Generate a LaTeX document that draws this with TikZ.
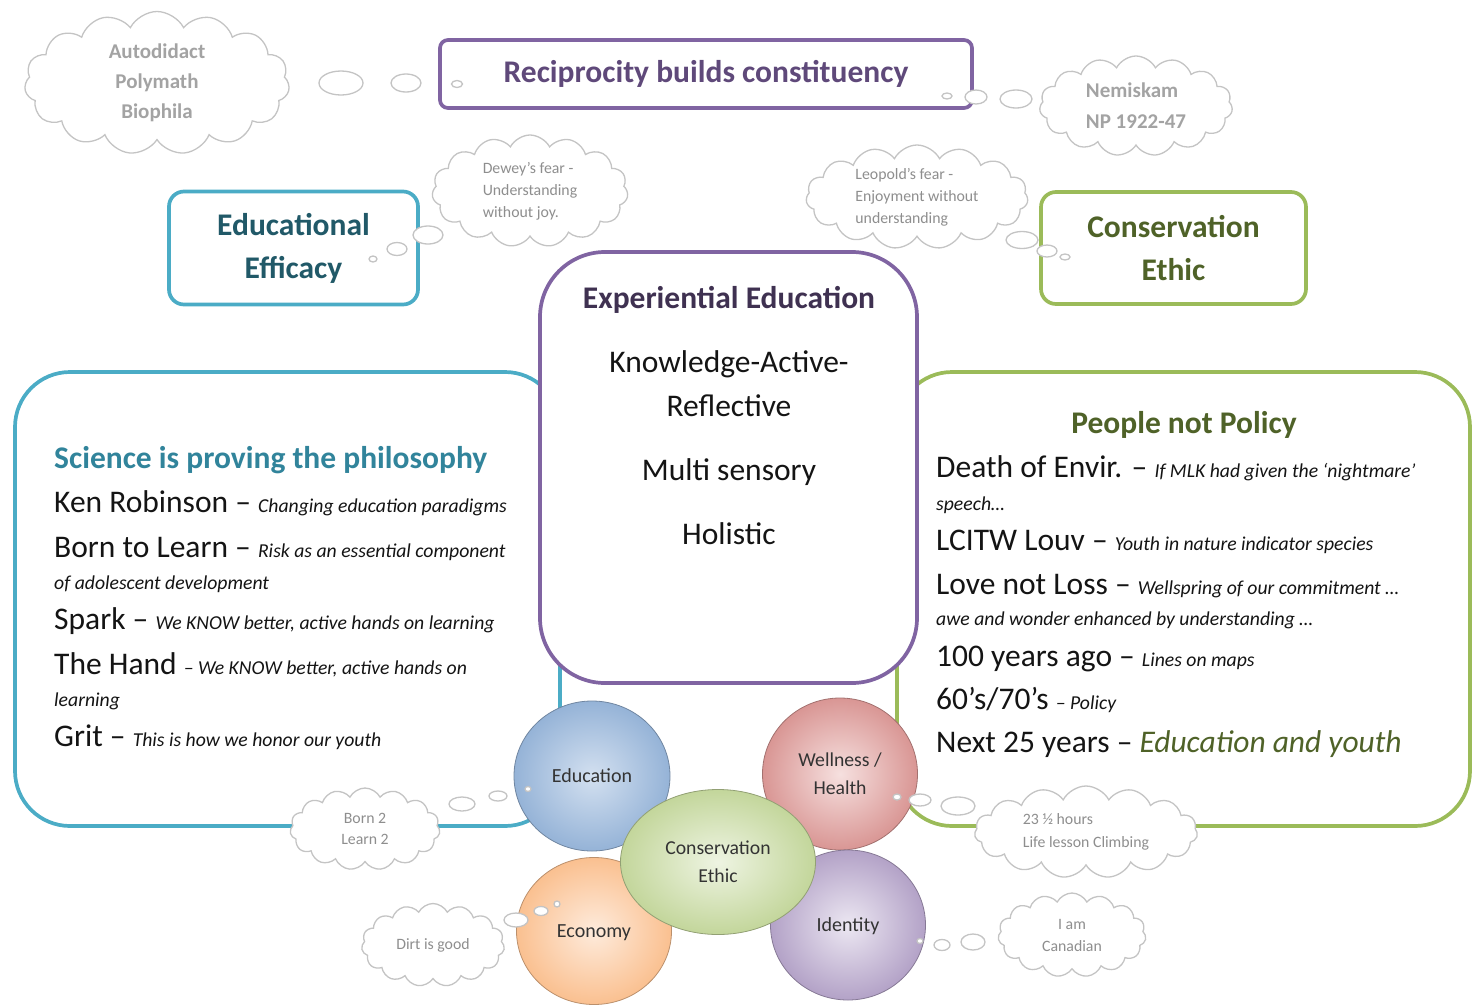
\documentclass[tikz,border=0pt]{standalone}
\usepackage{fontspec}
\setmainfont{Carlito}
\usepackage{xcolor}
\usepackage{tikz}
\usetikzlibrary{shapes.symbols,shapes.geometric}
\definecolor{tealbd}{HTML}{4BACC6}
\definecolor{tealtx}{HTML}{31849B}
\definecolor{tealdk}{HTML}{215968}
\definecolor{purpbd}{HTML}{8064A2}
\definecolor{purptx}{HTML}{5F497A}
\definecolor{purpdk}{HTML}{3F3151}
\definecolor{grnbd}{HTML}{9BBB59}
\definecolor{grntx}{HTML}{4F6228}
\definecolor{cldbd}{HTML}{C4C4C4}
\definecolor{cldtx}{HTML}{A3A3A3}
\definecolor{cldsm}{HTML}{8E8E8E}
\definecolor{eduin}{HTML}{D3E0F0}\definecolor{eduout}{HTML}{95B3D7}
\definecolor{welin}{HTML}{F6E0DF}\definecolor{welout}{HTML}{D99694}
\definecolor{conin}{HTML}{EEF4E2}\definecolor{conout}{HTML}{C3D69B}
\definecolor{ecoin}{HTML}{FEEBDC}\definecolor{ecoout}{HTML}{FAC090}
\definecolor{idin}{HTML}{ECE7F2}\definecolor{idout}{HTML}{B3A2C7}
\newcommand{\fsz}[1]{\fontsize{#1}{#1}\selectfont}
\newcommand{\note}[1]{{\fsz{19.7}\itshape #1}}

\begin{document}
\begin{tikzpicture}[x=1pt,y=-1pt,
  txtline/.style={anchor=base west,inner sep=0pt,font=\fsz{31.5},text=black!92},
  midline/.style={anchor=base,inner sep=0pt,font=\fsz{31.5},text=black!92},
  bigbox/.style={draw=#1,line width=3.7pt,fill=white,inner sep=0pt},
  cloudbox/.style={cloud,cloud puffs=15,cloud puff arc=125,cloud ignores aspect,draw=cldbd,line width=1.3pt,fill=white,inner sep=0pt},
  bub/.style={ellipse,draw=cldbd,line width=1.3pt,fill=white,inner sep=0pt},
  petal/.style 2 args={ellipse,inner sep=0pt,draw=#2!75!black,line width=0.8pt,inner color=#1,outer color=#2,font=\fsz{20},text=black!80,align=center}]
\useasboundingbox (0,0) rectangle (1476,1005);

% side boxes and the central box
\node[bigbox=tealbd,rounded corners=55pt,minimum width=545pt,minimum height=454pt] (sci) at (287.5,599) {};
\node[bigbox=grnbd,rounded corners=55pt,minimum width=573pt,minimum height=454pt] (pol) at (1183.5,599) {};
\node[bigbox=purpbd,rounded corners=65pt,minimum width=377pt,minimum height=431pt] (expe) at (728.5,467.5) {};

% top boxes
\node[bigbox=purpbd,rounded corners=8pt,minimum width=532pt,minimum height=68pt,font=\fsz{31.5}\bfseries,text=purptx] (recip) at (706,74) {Reciprocity builds constituency};
\node[bigbox=tealbd,rounded corners=15pt,minimum width=249pt,minimum height=113pt,font=\fontsize{31.5}{43}\selectfont\bfseries,text=tealdk,align=center] (edeff) at (293.5,248) {Educational\\Efficacy};
\node[bigbox=grnbd,rounded corners=15pt,minimum width=265pt,minimum height=112pt,font=\fontsize{31.5}{43}\selectfont\bfseries,text=grntx,align=center] (conseth) at (1173.5,248) {Conservation\\Ethic};

% central text
\node[midline,font=\fsz{31.5}\bfseries,text=purpdk] (ee) at (729,308) {Experiential Education};
\node[midline] (ka) at (729,372) {Knowledge-Active-};
\node[midline] (rf) at (729,416) {Reflective};
\node[midline] (ms) at (729,480) {Multi sensory};
\node[midline] (ho) at (729,544) {Holistic};

% left box text
\node[txtline,font=\fsz{31.5}\bfseries,text=tealtx] (scititle) at (54,468) {Science is proving the philosophy};
\node[txtline] (l1) at (54,512) {Ken Robinson – \note{Changing education paradigms}};
\node[txtline] (l2) at (54,557) {Born to Learn – \note{Risk as an essential component}};
\node[txtline] (l3) at (54,589) {\note{of adolescent development}};
\node[txtline] (l4) at (54,629) {Spark – \note{We KNOW better, active hands on learning}};
\node[txtline] (l5) at (54,674) {The Hand \note{– We KNOW better, active hands on}};
\node[txtline] (l6) at (54,706) {\note{learning}};
\node[txtline] (l7) at (54,746) {Grit – \note{This is how we honor our youth}};

% right box text
\node[midline,font=\fsz{31.5}\bfseries,text=grntx] (poltitle) at (1184,433) {People not Policy};
\node[txtline] (r1) at (936,477) {Death of Envir. – \note{If MLK had given the ‘nightmare’}};
\node[txtline] (r2) at (936,510) {\note{speech…}};
\node[txtline] (r3) at (936,550) {LCITW Louv – \note{Youth in nature indicator species}};
\node[txtline] (r4) at (936,594) {Love not Loss – \note{Wellspring of our commitment …}};
\node[txtline] (r5) at (936,625) {\note{awe and wonder enhanced by understanding …}};
\node[txtline] (r6) at (936,666) {100 years ago – \note{Lines on maps}};
\node[txtline] (r7) at (936,709) {60’s/70’s \note{– Policy}};
\node[txtline] (r8) at (936,752) {Next 25 years – {\itshape\color{grntx}Education and youth}};

% thought clouds
\node[cloudbox,minimum width=265pt,minimum height=143pt,font=\fontsize{21}{30}\selectfont\bfseries,text=cldtx,align=center] (auto) at (157,83) {Autodidact\\Polymath\\Biophila};
\node[cloudbox,minimum width=193pt,minimum height=100pt,font=\fontsize{21}{31}\selectfont\bfseries,text=cldtx,align=left] (nemi) at (1136,106) {Nemiskam\\NP 1922-47};
\node[cloudbox,minimum width=196pt,minimum height=112pt,font=\fontsize{15.8}{22}\selectfont,text=cldsm,align=left] (dewey) at (530,191) {Dewey’s fear -\\Understanding\\without joy.};
\node[cloudbox,minimum width=222pt,minimum height=104pt,font=\fontsize{15.8}{22}\selectfont,text=cldsm,align=left] (leo) at (917,197) {Leopold’s fear -\\Enjoyment without\\understanding};

% the five petals
\node[petal={eduin}{eduout},minimum width=156pt,minimum height=150pt] (edu) at (592,776) {Education};
\node[petal={welin}{welout},minimum width=155pt,minimum height=152pt,font=\fontsize{19.7}{28}\selectfont] (wel) at (840,774) {Wellness /\\Health};
\node[petal={ecoin}{ecoout},minimum width=155pt,minimum height=147pt,text depth=0pt] (eco) at (594,931) {Economy};
\node[petal={idin}{idout},minimum width=155pt,minimum height=150pt,text depth=0pt] (ide) at (848,925) {Identity};
\node[petal={conin}{conout},minimum width=195pt,minimum height=145pt,font=\fontsize{19.7}{28}\selectfont] (con) at (718,862) {Conservation\\Ethic};

% bottom clouds
\node[cloudbox,minimum width=150pt,minimum height=82pt,font=\fontsize{15.8}{21}\selectfont,text=cldsm,align=center] (born) at (365,829) {Born 2\\Learn 2};
\node[cloudbox,minimum width=143pt,minimum height=83pt,font=\fsz{15.8},text=cldsm] (dirt) at (433,945) {Dirt is good};
\node[cloudbox,minimum width=223pt,minimum height=92pt,font=\fontsize{15.8}{23}\selectfont,text=cldsm,align=left] (climb) at (1086,832) {23 ½ hours\\Life lesson Climbing};
\node[cloudbox,minimum width=148pt,minimum height=84pt,font=\fontsize{15.8}{22}\selectfont,text=cldsm,align=center] (cana) at (1072,935) {I am\\Canadian};

% bubbles
\node[bub,minimum width=44pt,minimum height=24pt] (ba1) at (341,83) {};
\node[bub,minimum width=30pt,minimum height=18pt] (ba2) at (406,83) {};
\node[bub,minimum width=11pt,minimum height=7pt] (ba3) at (457,84) {};
\node[bub,minimum width=10pt,minimum height=6pt] (bn1) at (947,96) {};
\node[bub,minimum width=22pt,minimum height=14pt] (bn2) at (976,97) {};
\node[bub,minimum width=32pt,minimum height=18pt] (bn3) at (1016,99) {};
\node[bub,minimum width=30pt,minimum height=18pt] (bd1) at (428,235) {};
\node[bub,minimum width=20pt,minimum height=13pt] (bd2) at (397,249) {};
\node[bub,minimum width=8pt,minimum height=6pt] (bd3) at (373,259) {};
\node[bub,minimum width=32pt,minimum height=17pt] (bl1) at (1022,240) {};
\node[bub,minimum width=20pt,minimum height=12pt] (bl2) at (1047,251) {};
\node[bub,minimum width=10pt,minimum height=6pt] (bl3) at (1065,257) {};
\node[bub,minimum width=26pt,minimum height=14pt] (bb1) at (462,804) {};
\node[bub,minimum width=18pt,minimum height=10pt] (bb2) at (498,796) {};
\node[bub,minimum width=6pt,minimum height=5pt] (bb3) at (528,789) {};
\node[bub,minimum width=24pt,minimum height=14pt] (bg1) at (516,920) {};
\node[bub,minimum width=14pt,minimum height=9pt] (bg2) at (541,911) {};
\node[bub,minimum width=6pt,minimum height=6pt] (bg3) at (557,904) {};
\node[bub,minimum width=8pt,minimum height=6pt] (bc1) at (897,797) {};
\node[bub,minimum width=22pt,minimum height=12pt] (bc2) at (920,800) {};
\node[bub,minimum width=34pt,minimum height=18pt] (bc3) at (958,806) {};
\node[bub,minimum width=6pt,minimum height=5pt] (bi1) at (920,941) {};
\node[bub,minimum width=16pt,minimum height=11pt] (bi2) at (942,945) {};
\node[bub,minimum width=24pt,minimum height=16pt] (bi3) at (973,942) {};
\end{tikzpicture}
\end{document}
